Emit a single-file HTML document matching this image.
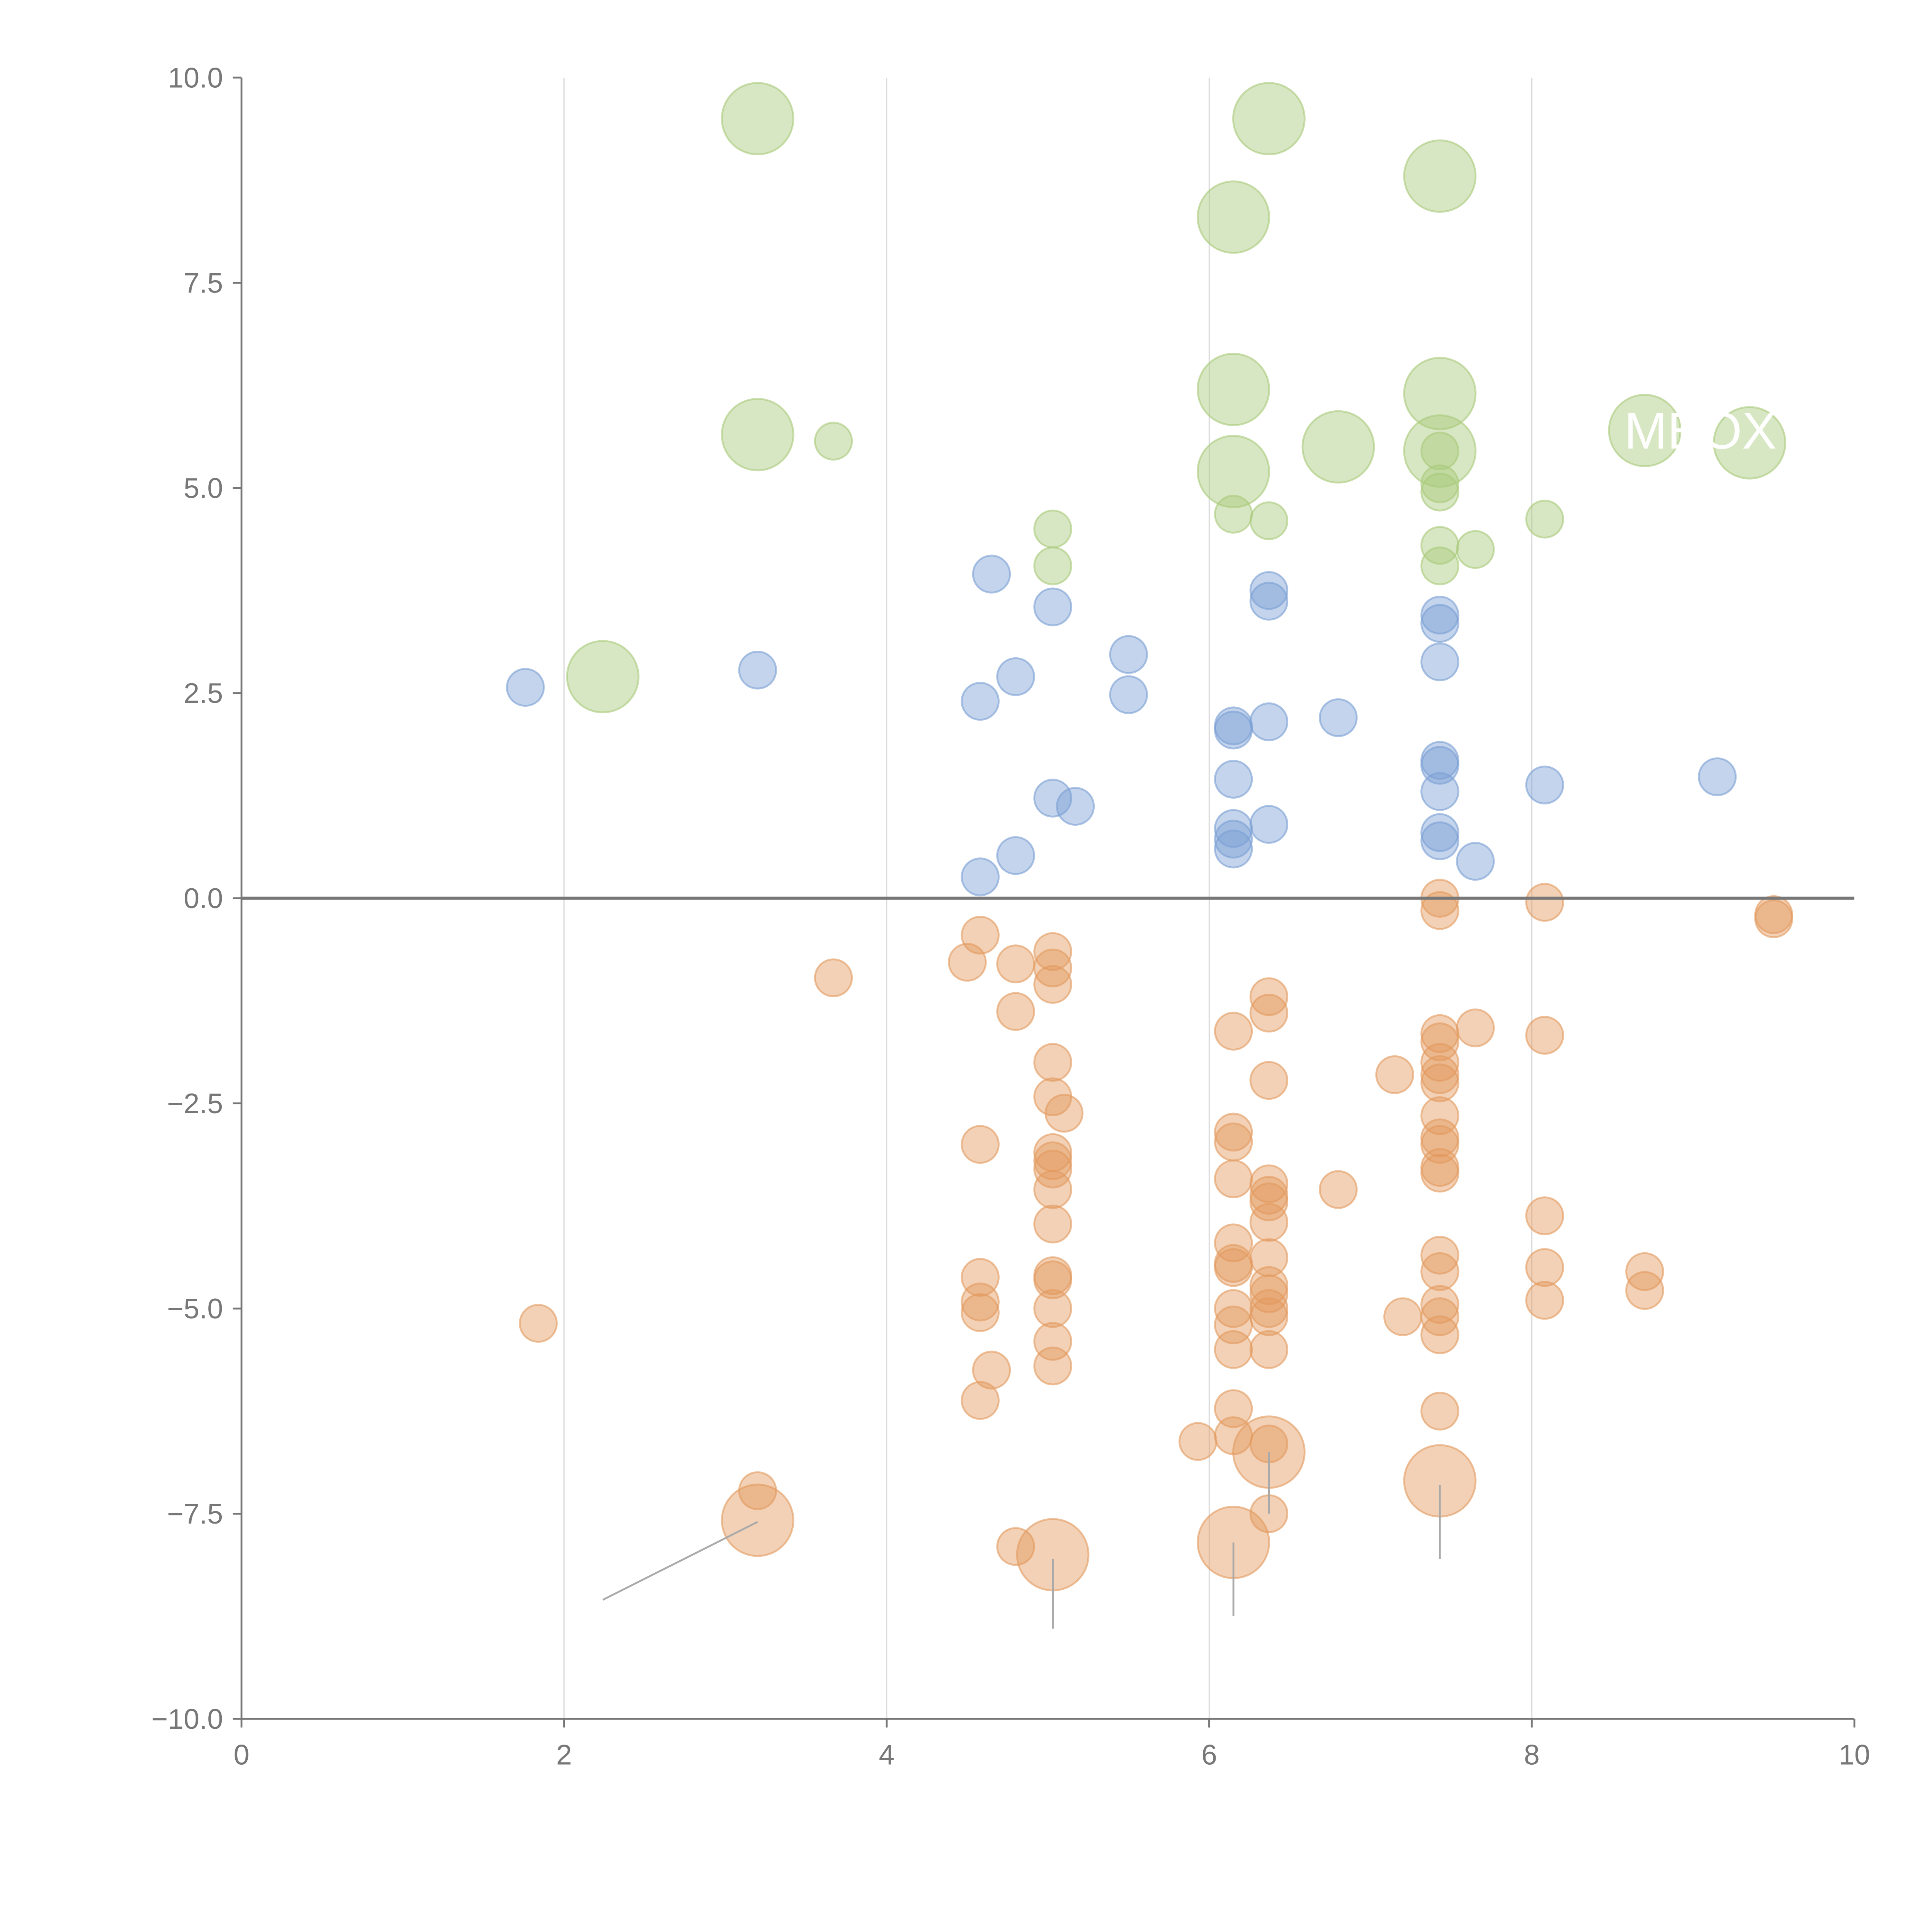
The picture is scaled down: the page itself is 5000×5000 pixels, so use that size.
<!DOCTYPE html>
<html><head><meta charset="utf-8"><style>
html,body{margin:0;padding:0;background:#fff;width:5000px;height:5000px;overflow:hidden}
svg{display:block}
text{font-family:"Liberation Sans",sans-serif}
</style></head><body>
<svg id="chart" width="5000" height="5000" viewBox="0 0 1568 1568" xmlns="http://www.w3.org/2000/svg">
<g id="grid"></g>
<g id="marks"></g>
<g id="axes"></g>
</svg>
<script>
const xTicks=[0,2,4,6,8,10];
const yTicks=[-10,-7.5,-5,-2.5,0,2.5,5,7.5,10];
const greenLarge=[[3.2,9.5],[6.37,9.5],[7.43,8.8],[6.15,8.3],[6.15,6.2],[7.43,6.15],[3.2,5.65],[6.15,5.2],[6.8,5.5],[7.43,5.45],[8.7,5.7],[9.35,5.55],[2.24,2.7]];
const greenSmall=[[3.67,5.57],[5.03,4.5],[5.03,4.05],[6.15,4.68],[6.37,4.6],[7.43,5.45],[7.43,5.05],[7.43,4.95],[7.43,4.3],[7.43,4.05],[7.65,4.25],[8.08,4.62]];
const blueSmall=[[1.76,2.57],[3.2,2.78],[4.65,3.95],[5.03,3.55],[4.8,2.7],[4.58,2.4],[5.5,2.97],[5.5,2.48],[6.37,3.75],[6.37,3.62],[7.43,3.45],[7.43,3.35],[7.43,2.88],[6.15,2.1],[6.15,2.05],[6.37,2.15],[6.8,2.2],[6.15,1.45],[7.43,1.68],[7.43,1.62],[7.43,1.3],[5.03,1.22],[5.17,1.12],[8.08,1.38],[9.15,1.48],[6.15,0.85],[6.15,0.72],[6.15,0.6],[6.37,0.9],[7.43,0.8],[7.43,0.7],[4.8,0.52],[4.58,0.26],[7.65,0.45]];
const orangeSmall=[[7.43,0],[7.43,-0.15],[8.08,-0.05],[9.5,-0.2],[9.5,-0.25],[4.58,-0.45],[4.5,-0.78],[4.8,-0.8],[5.03,-0.65],[5.03,-0.85],[5.03,-1.05],[3.67,-0.97],[4.8,-1.38],[6.37,-1.2],[6.37,-1.4],[6.15,-1.62],[7.43,-1.65],[7.43,-1.75],[7.65,-1.58],[8.08,-1.67],[5.03,-2.0],[7.43,-2.0],[7.43,-2.15],[7.43,-2.25],[7.15,-2.15],[6.37,-2.22],[5.03,-2.42],[5.1,-2.62],[7.43,-2.65],[6.15,-2.85],[6.15,-2.97],[4.58,-3.0],[7.43,-2.92],[7.43,-3.0],[5.03,-3.1],[5.03,-3.2],[5.03,-3.3],[7.43,-3.28],[7.43,-3.35],[6.15,-3.42],[6.37,-3.48],[6.37,-3.62],[6.37,-3.7],[5.03,-3.55],[6.8,-3.55],[5.03,-3.97],[6.37,-3.95],[8.08,-3.87],[6.15,-4.2],[6.15,-4.45],[6.15,-4.5],[6.37,-4.38],[7.43,-4.35],[7.43,-4.55],[8.08,-4.5],[8.7,-4.55],[8.7,-4.78],[4.58,-4.62],[5.03,-4.6],[5.03,-4.65],[6.37,-4.72],[6.37,-4.82],[4.58,-4.92],[4.58,-5.05],[5.03,-5.0],[6.15,-5.0],[6.37,-5.0],[6.37,-5.1],[7.43,-4.95],[7.43,-5.1],[7.2,-5.1],[8.08,-4.9],[1.84,-5.18],[6.15,-5.2],[7.43,-5.32],[5.03,-5.4],[6.15,-5.5],[6.37,-5.5],[5.03,-5.7],[4.65,-5.75],[4.58,-6.12],[6.15,-6.22],[7.43,-6.25],[6.15,-6.55],[5.93,-6.62],[6.37,-6.65],[3.2,-7.22],[4.8,-7.9],[6.37,-7.5]];
const orangeLarge=[[3.2,-7.58],[5.03,-8.0],[6.15,-7.85],[6.37,-6.75],[7.43,-7.1]];
const leaders=[[3.2,-7.6,2.24,-8.55],[5.03,-8.05,5.03,-8.9],[6.15,-7.85,6.15,-8.75],[6.37,-6.75,6.37,-7.5],[7.43,-7.15,7.43,-8.05]];

const NS='http://www.w3.org/2000/svg';
const X=v=>196+v*130.9, Y=v=>729-v*66.6;
function mk(tag,attrs,parent){const e=document.createElementNS(NS,tag);for(const k in attrs)e.setAttribute(k,attrs[k]);parent.appendChild(e);return e;}
const grid=document.getElementById('grid'),marks=document.getElementById('marks'),axes=document.getElementById('axes');
xTicks.forEach(t=>{if(t>0&&t<10){const l=mk('line',{x1:X(t),x2:X(t),y1:Y(10),y2:Y(-10),stroke:'#dcdcdc','stroke-width':1},grid);

}});
function draw(arr,r,color,name){arr.forEach(p=>{const c=mk('circle',{cx:X(p[0]),cy:Y(p[1]),r:r,fill:color,'fill-opacity':0.45,stroke:color,'stroke-opacity':0.6,'stroke-width':1.5},marks);

});}
draw(greenLarge,29,'#a9c97a','green-bubble-large');
draw(greenSmall,15,'#a9c97a','green-bubble');
draw(blueSmall,15,'#7a9fd4','blue-bubble');
draw(orangeSmall,15,'#e39a5e','orange-bubble');
draw(orangeLarge,29,'#e39a5e','orange-bubble-large');
leaders.forEach(s=>{const l=mk('line',{x1:X(s[0]),y1:Y(s[1]),x2:X(s[2]),y2:Y(s[3]),stroke:'#aaa','stroke-width':1.5},marks);

});
const lab=mk('text',{x:1380,y:364,'font-size':42,fill:'#fff','text-anchor':'middle'},marks);lab.textContent='MEOX';


const zl=mk('line',{x1:X(0),x2:X(10),y1:Y(0),y2:Y(0),stroke:'#777','stroke-width':2.5},axes);


const ya=mk('line',{x1:X(0),x2:X(0),y1:Y(10),y2:Y(-10),stroke:'#777','stroke-width':1.5},axes);


const xa=mk('line',{x1:X(0),x2:X(10),y1:Y(-10),y2:Y(-10),stroke:'#777','stroke-width':1.5},axes);


xTicks.forEach(t=>{mk('line',{x1:X(t),x2:X(t),y1:Y(-10),y2:Y(-10)+7,stroke:'#777','stroke-width':1.5},axes);
const tx=mk('text',{x:X(t),y:Y(-10)+37,'font-size':23,fill:'#777','text-anchor':'middle'},axes);tx.textContent=t;

});
yTicks.forEach(t=>{mk('line',{x1:X(0)-7,x2:X(0),y1:Y(t),y2:Y(t),stroke:'#777','stroke-width':1.5},axes);
const tx=mk('text',{x:X(0)-15,y:Y(t)+8,'font-size':23,fill:'#777','text-anchor':'end'},axes);tx.textContent=(t<0?'\u2212':'')+Math.abs(t).toFixed(1);

});
</script>
</body></html>
